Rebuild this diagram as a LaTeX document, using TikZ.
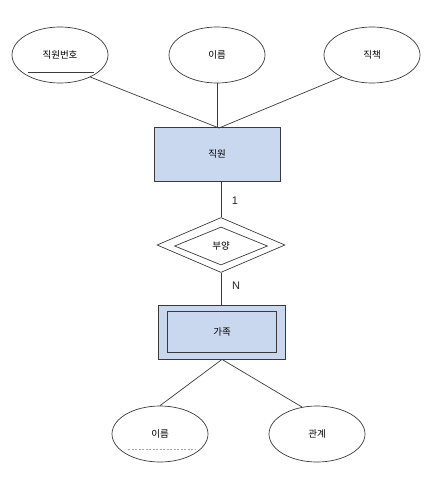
\documentclass[tikz,border=0pt]{standalone}
\usepackage{fontspec}
\setmainfont{Liberation Sans}
\newfontfamily\kr{Noto Sans CJK KR}
\usetikzlibrary{shapes.geometric}
\definecolor{entfill}{HTML}{C9D8EF}
\definecolor{edge}{HTML}{3A3A3A}
\begin{document}
\begin{tikzpicture}[x=1pt,y=-1pt,
  krfont/.style={font=\kr\fontsize{9.5}{10}\selectfont},
  attr/.style={ellipse,draw=edge,line width=0.7pt,minimum width=96pt,minimum height=56pt,inner sep=0pt,krfont},
  entity/.style={rectangle,draw=edge,fill=entfill,line width=0.8pt,inner sep=0pt,krfont},
  inbox/.style={rectangle,draw=edge,line width=0.8pt,inner sep=0pt,krfont},
  relbox/.style={diamond,draw=edge,line width=0.7pt,inner sep=0pt,krfont},
  conn/.style={draw=edge,line width=0.7pt},
  card/.style={font=\fontsize{11}{12}\selectfont,inner sep=0pt,text=black!85},
  keyline/.style={draw=edge,line width=0.8pt},
  partkey/.style={draw=gray!70,line width=0.6pt,dashed,dash pattern=on 2pt off 1.5pt}]
\useasboundingbox (0,0) rectangle (436,479);
% top attributes
\node[attr] (a1) at (60,55) {직원번호};
\node[attr] (a2) at (217,55) {이름};
\node[attr] (a3) at (372,55) {직책};
\coordinate (k1) at (28,72);
\coordinate (k2) at (94,72);
\draw[keyline] (k1) -- (k2);
% entity
\node[entity,minimum width=126pt,minimum height=54pt] (emp) at (217,154) {직원};
\coordinate (top) at (219,128);
\draw[conn] (a1.-36) -- (top);
\draw[conn] (a2.south) -- (a2.south |- top);
\draw[conn] (a3.216) -- (top);
% relationship
\node[relbox,minimum width=128pt,minimum height=55pt] (rel) at (221,245) {};
\node[relbox,minimum width=93pt,minimum height=38pt] (relin) at (221,246) {부양};
\draw[conn] (emp.south -| rel.north) -- (rel.north);
\node[card] (c1) at (235,201) {1};
% weak entity
\node[entity,minimum width=127pt,minimum height=54pt] (fam) at (222,332) {};
\node[inbox,minimum width=109pt,minimum height=41pt] (famin) at (222,332) {가족};
\draw[conn] (rel.south) -- (rel.south |- fam.north);
\node[card] (c2) at (236,286) {N};
% bottom attributes
\node[attr] (b1) at (160,434) {이름};
\node[attr] (b2) at (317,434) {관계};
\draw[conn] (fam.south) -- (b1.north);
\draw[conn] (fam.south) -- (b2.119);
\coordinate (p1) at (128,449);
\coordinate (p2) at (195,449);
\draw[partkey] (p1) -- (p2);
\end{tikzpicture}
\end{document}
